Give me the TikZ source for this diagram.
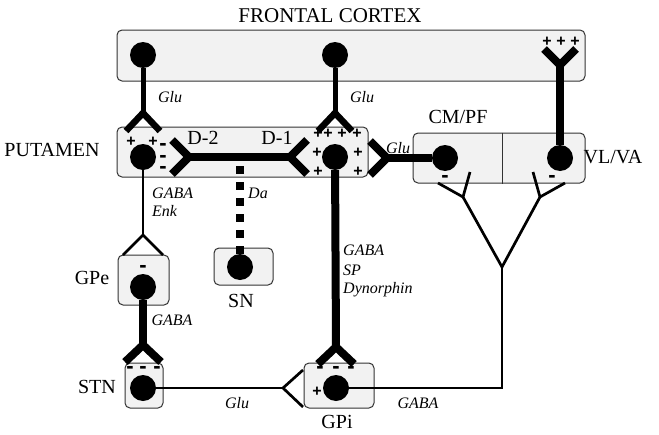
\documentclass[tikz,border=0pt]{standalone}
\usepackage{fontspec}
\setmainfont{Liberation Serif}
\newfontfamily\signfont{Liberation Sans}
\begin{document}
\begin{tikzpicture}[x=1pt,y=-1pt,
  region/.style={draw=black!80, fill=black!5, rounded corners=5pt, line width=1pt, inner sep=0pt},
  soma/.style={circle, fill=black, minimum size=26pt, inner sep=0pt},
  stemline/.style={line width=5pt},
  armthin/.style={line width=6.5pt, line join=miter},
  axon/.style={line width=8pt, line join=miter},
  fine/.style={line width=2.7pt, line join=miter},
  dotaxon/.style={line width=8pt, dash pattern=on 8pt off 8pt, dash phase=12pt},
  big/.style={font=\fontsize{20}{22}\selectfont, inner sep=0pt},
  nt/.style={font=\fontsize{16}{18}\selectfont\itshape, inner sep=0pt},
  ntl/.style={nt, anchor=west},
  pl/.style={font=\signfont\bfseries\fontsize{16}{16}\selectfont, inner sep=0pt},
  mi/.style={font=\signfont\bfseries\fontsize{22}{22}\selectfont, inner sep=0pt, yshift=-2pt}
]
\useasboundingbox (0,0) rectangle (659,434);

% regions
\node[region, minimum width=468pt, minimum height=51pt] (cortex) at (351,55.5) {};
\node[region, minimum width=251pt, minimum height=50pt] (putamen) at (242.5,152) {};
\node[region, minimum width=172pt, minimum height=50pt] (thal) at (499,158) {};
\node[region, minimum width=51pt, minimum height=50pt] (gpebox) at (143.5,280) {};
\node[region, minimum width=59pt, minimum height=37pt] (snbox) at (243.5,266.5) {};
\node[region, minimum width=38pt, minimum height=45pt] (stnbox) at (144,385.5) {};
\node[region, minimum width=70pt, minimum height=45pt] (gpibox) at (339,385.5) {};
\draw[black!80, line width=1pt] (thal.north) ++(3,0) coordinate (dv1) -- (dv1 |- thal.south);

% somata
\node[soma] (cx1) at (143,55) {};
\node[soma] (cx2) at (335,55) {};
\node[soma] (pl) at (143,157) {};
\node[soma] (pr) at (335,157) {};
\node[soma] (cm) at (445,158) {};
\node[soma] (vl) at (560,158) {};
\node[soma] (gpe) at (143,287) {};
\node[soma] (sn) at (240,267) {};
\node[soma] (stn) at (143,388) {};
\node[soma] (gpi) at (336,388) {};

% junctions
\coordinate (j1) at (143,113);
\coordinate (j2) at (335,113);
\coordinate (jd2) at (189,157);
\coordinate (jd1) at (290,157);
\coordinate (jcm) at (387,158);
\coordinate (jvl) at (560,65);
\coordinate (jgpi) at (336,347);
\coordinate (jstn) at (143,345);
\coordinate (jgpe) at (143,235);
\coordinate (jgpiL) at (283,388);
\coordinate (tc) at (502,388);
\coordinate (tj) at (502,267);
\coordinate (tjl) at (463,197);
\coordinate (tjr) at (540,197);
\coordinate (dastart) at (240,162);

% cortex -> putamen
\draw[stemline] (cx1) -- (j1);
\draw[armthin] (126,131) -- (j1) -- (160,131);
\draw[stemline] (cx2) -- (j2);
\draw[armthin] (318,131) -- (j2) -- (352,131);

% D-2 / D-1
\draw[axon] (jd2) -- (jd1);
\draw[axon] (172,140) -- (jd2) -- (172,174);
\draw[axon] (307,140) -- (jd1) -- (307,174);

% CM/PF -> putamen
\draw[axon] (cm) -- (jcm);
\draw[axon] (370,141) -- (jcm) -- (370,175);

% VL/VA -> cortex
\draw[axon] (vl) -- (jvl);
\draw[axon] (544,49) -- (jvl) -- (576,49);

% putamen D-1 -> GPi
\draw[axon] (pr) -- (jgpi);
\draw[axon] (318,364) -- (jgpi) -- (354,364);

% putamen D-2 -> GPe
\draw[fine] (pl) -- (jgpe);
\draw[fine] (123,255) -- (jgpe) -- (163,255);

% GPe -> STN
\draw[axon] (gpe) -- (jstn);
\draw[axon] (125,362) -- (jstn) -- (161,362);

% STN -> GPi
\draw[fine] (stn) -- (jgpiL);
\draw[fine] (303,370) -- (jgpiL) -- (303,407);

% SN -> putamen
\draw[dotaxon] (dastart) -- (sn.center);

% GPi -> thalamus
\draw[fine] (gpi) -- (tc) -- (tj);
\draw[fine] (tjl) -- (tj) -- (tjr);
\draw[fine] (438,183) -- (tjl) -- (470,172);
\draw[fine] (533,172) -- (tjr) -- (565,183);

% big labels
\node[big, font=\fontsize{21}{23}\selectfont] (lcortex) at (330,16) {FRONTAL CORTEX};
\node[big] (lput) at (52,150) {PUTAMEN};
\node[big] (ld2) at (203,138) {D-2};
\node[big] (ld1) at (277,138) {D-1};
\node[big] (lcm) at (458,117) {CM/PF};
\node[big] (lvl) at (613,157) {VL/VA};
\node[big] (lgpe) at (92,278) {GPe};
\node[big] (lsn) at (241,301) {SN};
\node[big] (lstn) at (97,387) {STN};
\node[big] (lgpi) at (337,422) {GPi};

% transmitter labels
\node[nt] (g1) at (170,97) {Glu};
\node[nt] (g2) at (362,97) {Glu};
\node[nt] (g3) at (398,148) {Glu};
\node[ntl] (t1) at (152,193) {GABA};
\node[ntl] (t2) at (152,211) {Enk};
\node[ntl] (t3) at (248,193) {Da};
\node[ntl] (t4) at (343,250) {GABA};
\node[ntl] (t5) at (343,270) {SP};
\node[ntl] (t6) at (343,290) {Dynorphin};
\node[nt] (t7) at (172,320) {GABA};
\node[nt] (t8) at (237,403) {Glu};
\node[nt] (t9) at (418,403) {GABA};

% signs
\foreach \x/\y [count=\i] in {131/142,153/142,318/134,328/134,342/134,357/134,317/153,358/153,318/172,358/172,547/42,561/42,575/42,317/392}
  \node[pl] (plus\i) at (\x,\y) {+};
\foreach \x/\y [count=\i] in {163/145,163/157,163/168,445/177,552/177,143/267,130/368,143/368,157/368,320/368,336/368,351/368}
  \node[mi] (min\i) at (\x,\y) {-};
\end{tikzpicture}
\end{document}
